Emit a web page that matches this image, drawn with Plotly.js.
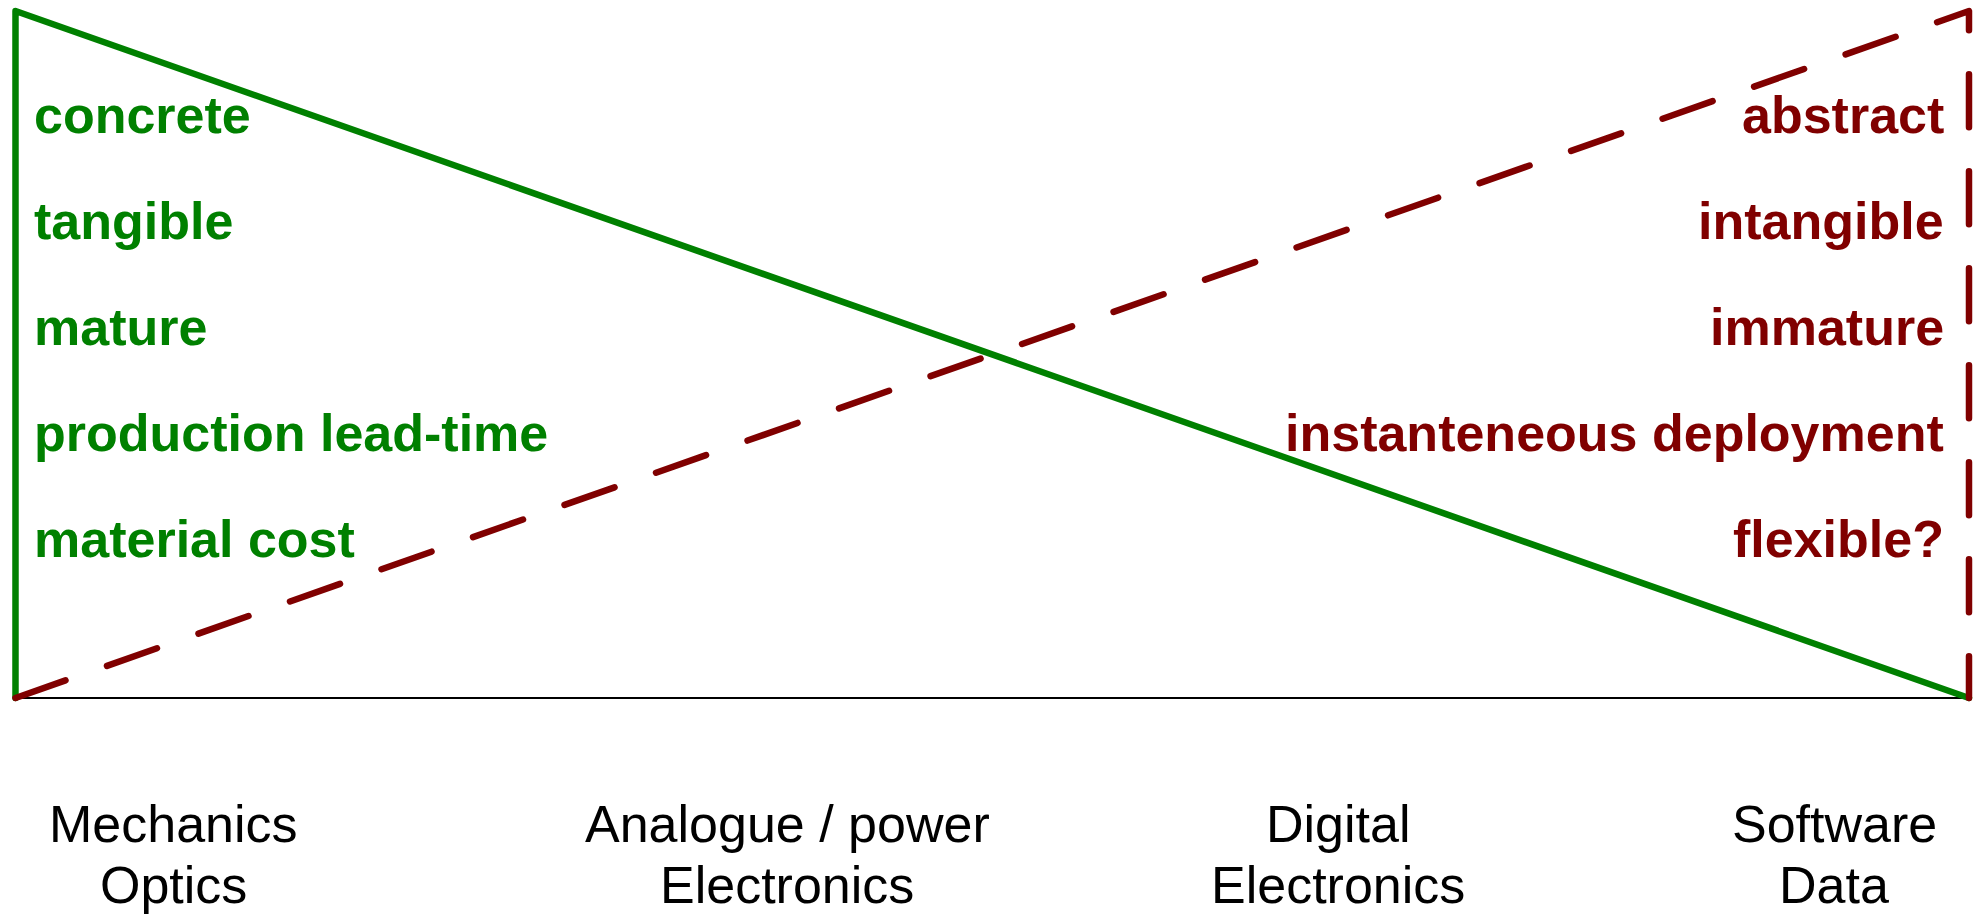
<!DOCTYPE html>
<html><head><meta charset="utf-8">
<script src="https://cdn.plot.ly/plotly-3.0.1.min.js"></script>
<style>html,body{margin:0;padding:0;background:#fff;overflow:hidden}#chart{width:1983px;height:914px}</style>
</head><body><div id="chart"></div>
<script>
// ---- data ----
const categoryLine1 = ["Mechanics", "Analogue / power", "Digital", "Software"];
const categoryLine2 = ["Optics", "Electronics", "Electronics", "Data"];
const categoryPos = [0.081, 0.395, 0.677, 0.931];   // position along the hardware→software spectrum
const hardwareTraits = ["concrete", "tangible", "mature", "production lead-time", "material cost"];
const softwareTraits = ["abstract", "intangible", "immature", "instanteneous deployment", "flexible?"];
const hardwareX = [0, 0, 1];
const hardwareY = [0, 1, 0];
const softwareX = [0, 1, 1];
const softwareY = [0, 1, 0];

// ---- layout helpers ----
const W = 1983, H = 914;
const xRange = [-0.00793, 1.00717];
const yRange = [-0.3144, 1.016];
const px = p => xRange[0] + p * (xRange[1] - xRange[0]) / W;
const py = p => yRange[1] - p * (yRange[1] - yRange[0]) / H;

const GREEN = "#008000", RED = "#800000";
const FONT = "Liberation Sans, Arial, Helvetica, sans-serif";

const traces = [
  {x: hardwareX, y: hardwareY, mode: "lines", line: {color: GREEN, width: 6.5}, hoverinfo: "skip"},
  {x: softwareX, y: softwareY, mode: "lines", line: {color: RED, width: 6.5, dash: "53px,44px"}, hoverinfo: "skip"}
];

const annotations = [];
hardwareTraits.forEach((t, i) => annotations.push({
  text: "<b>" + t + "</b>", xref: "x", yref: "y", x: px(33), y: py(115 + i * 106),
  xanchor: "left", yanchor: "middle", showarrow: false, borderpad: 0,
  font: {family: FONT, size: 52, color: GREEN}
}));
softwareTraits.forEach((t, i) => annotations.push({
  text: "<b>" + t + "</b>", xref: "x", yref: "y", x: px(1945), y: py(115 + i * 106),
  xanchor: "right", yanchor: "middle", showarrow: false, borderpad: 0,
  font: {family: FONT, size: 52, color: RED}
}));
categoryPos.forEach((c, i) => {
  annotations.push({text: categoryLine1[i], xref: "x", yref: "y", x: c, y: py(824),
    xanchor: "center", yanchor: "middle", showarrow: false, borderpad: 0,
    font: {family: FONT, size: 52, color: "#000"}});
  annotations.push({text: categoryLine2[i], xref: "x", yref: "y", x: c, y: py(885),
    xanchor: "center", yanchor: "middle", showarrow: false, borderpad: 0,
    font: {family: FONT, size: 52, color: "#000"}});
});

const layout = {
  width: W, height: H,
  margin: {l: 0, r: 0, t: 0, b: 0, pad: 0},
  paper_bgcolor: "#fff", plot_bgcolor: "#fff",
  showlegend: false, hovermode: false,
  xaxis: {range: xRange, showgrid: false, zeroline: false, showline: false, showticklabels: false, ticks: "", fixedrange: true},
  yaxis: {range: yRange, showgrid: false, zeroline: false, showline: false, showticklabels: false, ticks: "", fixedrange: true},
  shapes: [{type: "line", xref: "x", yref: "y", x0: 0, x1: 1, y0: 0, y1: 0, line: {color: "#000", width: 2}, layer: "below"}],
  annotations: annotations
};

Plotly.newPlot("chart", traces, layout, {displayModeBar: false, staticPlot: true}).then(() => {
  document.querySelectorAll(".scatterlayer .js-line").forEach(p => {
    p.style.strokeLinecap = "round";
    p.style.strokeLinejoin = "round";
  });
});
</script></body></html>
